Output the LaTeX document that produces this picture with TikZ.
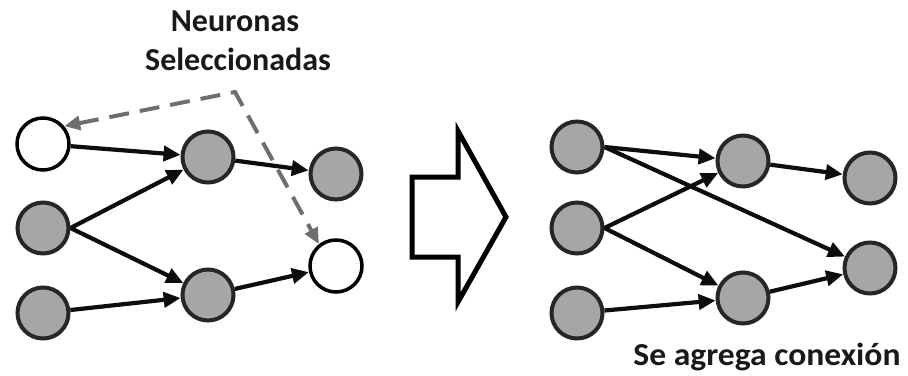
\documentclass[tikz,border=0pt]{standalone}
\usepackage{fontspec}
\setmainfont{Carlito}
\usetikzlibrary{arrows.meta}
\begin{document}
\begin{tikzpicture}[x=1pt,y=-1pt,
  neuron/.style={circle,draw=black!85,line width=4pt,fill=grayfill,inner sep=0pt,minimum size=51pt},
  empty/.style={circle,draw=black,line width=3.5pt,fill=white,inner sep=0pt,minimum size=52pt},
  link/.style={line width=4.2pt,draw=black!95,-{Triangle[length=17pt,width=15pt]}},
  pick/.style={line width=4pt,draw=dashgray,dash pattern=on 20pt off 11pt,
    {Triangle[length=16pt,width=14pt]}-{Triangle[length=16pt,width=14pt]}},
  bigarrow/.style={draw=black,line width=5pt,fill=white,line join=miter},
  label/.style={font=\fontsize{32}{36}\selectfont\bfseries,text=black!90}]
\definecolor{grayfill}{RGB}{166,166,166}
\definecolor{dashgray}{RGB}{110,110,110}
\useasboundingbox (0,0) rectangle (908,375);

% left network, before
\node[empty]  (l1) at (43,144) {};
\node[neuron] (l2) at (43,228) {};
\node[neuron] (l3) at (43,313) {};
\node[neuron] (m1) at (208,157) {};
\node[neuron] (m2) at (208,295) {};
\node[neuron] (r1) at (336,174) {};
\node[empty]  (r2) at (336,266) {};

\draw[link] (l1) -- (m1);
\draw[link] (l2.east) -- (m1);
\draw[link] (l2.east) -- (m2);
\draw[link] (l3) -- (m2);
\draw[link] (m1) -- (r1);
\draw[link] (m2) -- (r2);

% selected neurons marker
\coordinate (sel) at (235,92);
\draw[pick] (l1.40) -- (sel) -- (r2.128);
\node[label] (t1) at (235,21) {Neuronas};
\node[label] (t2) at (238,59) {Seleccionadas};

% transition arrow
\draw[bigarrow] (412,177) -- (458,177) -- (458,131) -- (506,217) -- (458,302) -- (458,257) -- (412,257) -- cycle;

% right network, after
\node[neuron] (a1) at (577,147) {};
\node[neuron] (a2) at (577,228) {};
\node[neuron] (a3) at (577,313) {};
\node[neuron] (b1) at (743,161) {};
\node[neuron] (b2) at (743,298) {};
\node[neuron] (c1) at (870,178) {};
\node[neuron] (c2) at (870,268) {};

\draw[link] (a1.east) -- (b1);
\draw[link] (a1.east) -- (c2);
\draw[link] (a2.east) -- (b1);
\draw[link] (a2.east) -- (b2);
\draw[link] (a3) -- (b2);
\draw[link] (b1) -- (c1);
\draw[link] (b2) -- (c2);

\node[label,xscale=1.05,inner sep=0pt] (t3) at (767,357) {Se agrega conexión};
\end{tikzpicture}
\end{document}
